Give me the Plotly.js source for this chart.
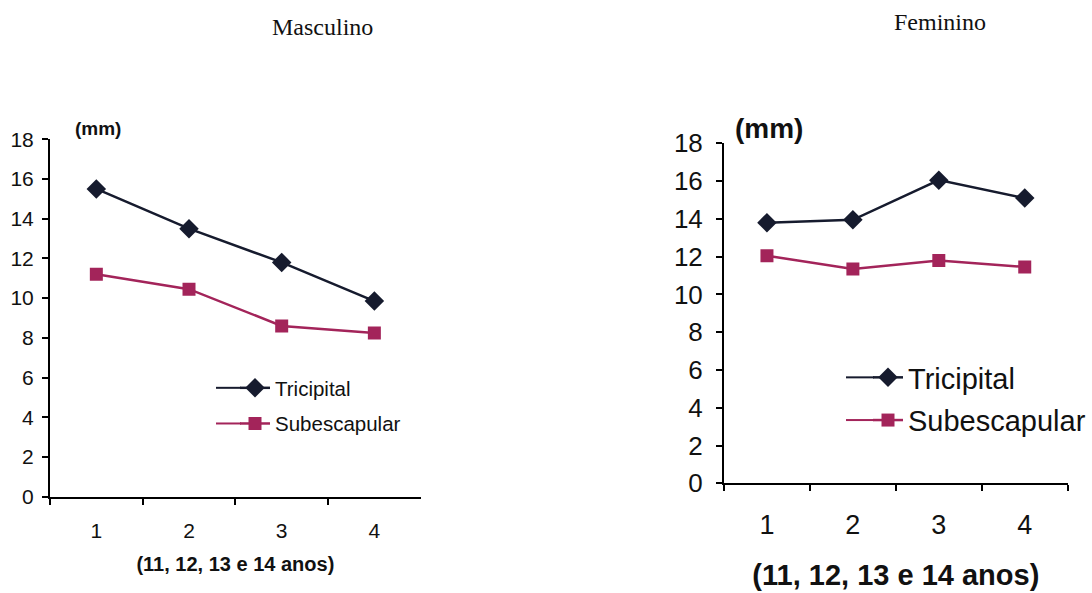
<!DOCTYPE html>
<html>
<head>
<meta charset="utf-8">
<script src="https://cdn.plot.ly/plotly-3.0.1.min.js"></script>
<style>
  html, body { margin: 0; padding: 0; background: #ffffff; }
  #chart { width: 1092px; height: 593px; }
</style>
</head>
<body>
<div id="chart"></div>
<script>
// Age groups (1..4 = 11, 12, 13 and 14 years)
const ageGroups = ['1', '2', '3', '4'];

// Skinfold thickness in mm, boys
const boysTricipital = [15.5, 13.5, 11.8, 9.85];
const boysSubescapular = [11.2, 10.45, 8.6, 8.25];

// Skinfold thickness in mm, girls
const girlsTricipital = [13.8, 13.95, 16.05, 15.1];
const girlsSubescapular = [12.05, 11.35, 11.8, 11.45];

const yTicks = [0, 2, 4, 6, 8, 10, 12, 14, 16, 18];

const W = 1092, H = 593;
const px = v => v / W;
const py = v => 1 - v / H;

const triColor = '#161b2e';
const subColor = '#a3245a';
const sans = 'Liberation Sans, Arial, sans-serif';
const serif = 'Liberation Serif, Times New Roman, serif';

function series(x, y, name, color, symbol, size, axes, legend) {
  return {
    type: 'scatter', mode: 'lines+markers',
    x: x, y: y, name: name,
    xaxis: axes[0], yaxis: axes[1],
    legend: legend, legendgroup: legend + name, showlegend: true,
    line: { color: color, width: 2.5 },
    marker: { color: color, symbol: symbol, size: size },
    hoverinfo: 'x+y+name'
  };
}

const data = [
  series(ageGroups, boysTricipital, 'Tricipital', triColor, 'diamond', 15, ['x', 'y'], 'legend'),
  series(ageGroups, boysSubescapular, 'Subescapular', subColor, 'square', 13, ['x', 'y'], 'legend'),
  series(ageGroups, girlsTricipital, 'Tricipital', triColor, 'diamond', 15, ['x2', 'y2'], 'legend2'),
  series(ageGroups, girlsSubescapular, 'Subescapular', subColor, 'square', 13, ['x2', 'y2'], 'legend2')
];

function xAxis(domain, fontSize, standoff, titleSize, titleStandoff, anchor) {
  return {
    domain: domain, anchor: anchor, type: 'category',
    range: [-0.5, 3.5], tickson: 'boundaries',
    showline: true, linecolor: '#000', linewidth: 2,
    ticks: 'outside', ticklen: 6, tickwidth: 2, tickcolor: '#000',
    showgrid: false, zeroline: false,
    ticklabelstandoff: standoff,
    tickfont: { family: sans, size: fontSize, color: '#111' },
    title: { text: '<b>(11, 12, 13 e 14 anos)</b>', standoff: titleStandoff,
             font: { family: sans, size: titleSize, color: '#111' } },
    fixedrange: true
  };
}

function yAxis(domain, fontSize, standoff, anchor) {
  return {
    domain: domain, anchor: anchor,
    range: [0, 18], tickvals: yTicks, ticktext: yTicks.map(String),
    showline: true, linecolor: '#000', linewidth: 2,
    ticks: 'outside', ticklen: 6, tickwidth: 2, tickcolor: '#000',
    showgrid: false, zeroline: false,
    ticklabelstandoff: standoff,
    tickfont: { family: sans, size: fontSize, color: '#111' },
    fixedrange: true
  };
}

// Longer legend sample lines, extending the built-in legend swatches to the left
function legendLine(x0, x1, y, color) {
  return { type: 'line', xref: 'paper', yref: 'paper',
           x0: px(x0), x1: px(x1), y0: py(y), y1: py(y),
           line: { color: color, width: 2 } };
}

const layout = {
  width: W, height: H,
  margin: { l: 0, r: 0, t: 0, b: 0 },
  paper_bgcolor: '#ffffff', plot_bgcolor: '#ffffff',
  showlegend: true,
  xaxis: xAxis([px(50), px(420.7)], 21, 14, 20, 16, 'y'),
  yaxis: yAxis([py(496.7), py(139.3)], 21, 4, 'x'),
  xaxis2: xAxis([px(724), px(1067.7)], 27, 16, 29, 26, 'y2'),
  yaxis2: yAxis([py(483.3), py(143.3)], 26, 8, 'x2'),
  legend: {
    x: px(235), y: py(368), xanchor: 'left', yanchor: 'top',
    bgcolor: 'rgba(0,0,0,0)', traceorder: 'grouped', tracegroupgap: 6,
    font: { family: sans, size: 20.5, color: '#111' },
    itemwidth: 30
  },
  legend2: {
    x: px(868), y: py(352), xanchor: 'left', yanchor: 'top',
    bgcolor: 'rgba(0,0,0,0)', traceorder: 'grouped', tracegroupgap: 2,
    font: { family: sans, size: 29, color: '#111' },
    itemwidth: 30
  },
  shapes: [],
  annotations: [
    { text: 'Masculino', xref: 'paper', yref: 'paper', x: px(322), y: py(27),
      xanchor: 'center', yanchor: 'middle', showarrow: false,
      font: { family: serif, size: 24, color: '#111' } },
    { text: 'Feminino', xref: 'paper', yref: 'paper', x: px(940), y: py(22),
      xanchor: 'center', yanchor: 'middle', showarrow: false,
      font: { family: serif, size: 24, color: '#111' } },
    { text: '<b>(mm)</b>', xref: 'paper', yref: 'paper', x: px(73), y: py(128),
      xanchor: 'left', yanchor: 'middle', showarrow: false,
      font: { family: sans, size: 19, color: '#111' } },
    { text: '<b>(mm)</b>', xref: 'paper', yref: 'paper', x: px(733), y: py(128),
      xanchor: 'left', yanchor: 'middle', showarrow: false,
      font: { family: sans, size: 28, color: '#111' } }
  ]
};

Plotly.newPlot('chart', data, layout, { displayModeBar: false }).then(gd => {
  // Measure the rendered legend swatches and stretch their sample lines leftwards
  const shapes = [];
  const rootBox = gd.getBoundingClientRect();
  gd.querySelectorAll('.legend .traces, .legend2 .traces').forEach(tr => {
    const line = tr.querySelector('.legendlines path');
    if (!line) return;
    const b = line.getBoundingClientRect();
    const color = line.style.stroke;
    const y = b.top + b.height / 2 - rootBox.top;
    const x1 = b.left - rootBox.left + 1;
    const ext = b.left - rootBox.left > 600 ? 28 : 25;
    shapes.push(legendLine(x1 - ext, x1, y, color));
  });
  Plotly.relayout(gd, { shapes: shapes });
});
</script>
</body>
</html>
